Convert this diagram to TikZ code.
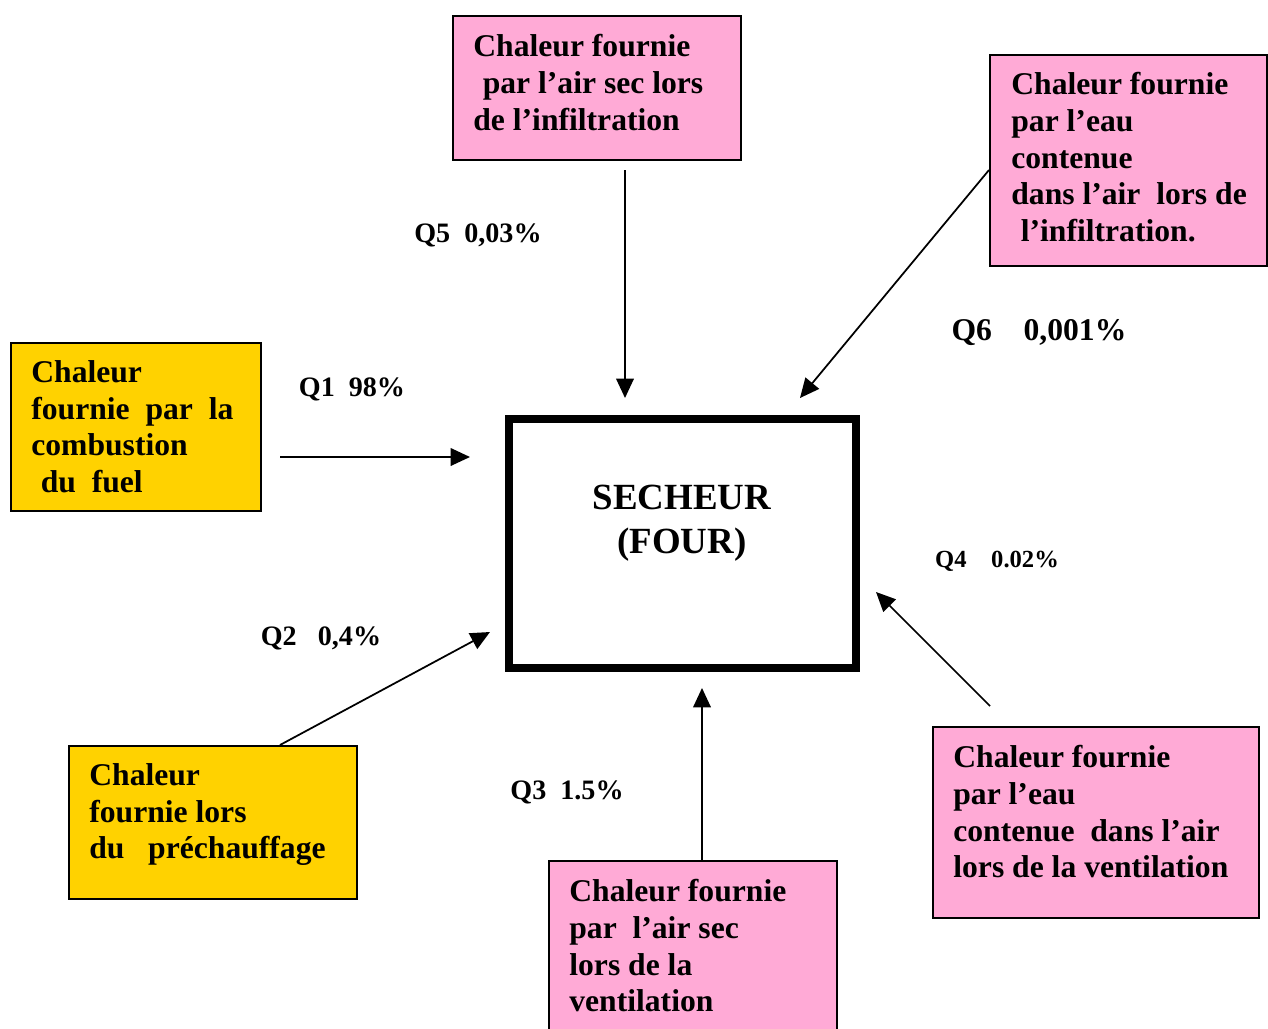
\documentclass[tikz,border=0pt]{standalone}
\usepackage{fontspec}
\setmainfont{Liberation Serif}
\usetikzlibrary{arrows.meta}
\definecolor{boxyellow}{RGB}{255,210,0}
\definecolor{boxpink}{RGB}{255,170,214}
\tikzset{
  heatbox/.style = {draw, line width = 1.2pt, anchor = north west, inner sep = 0pt},
  heattext/.style = {anchor = north west, align = left, inner sep = 0pt,
    font = \bfseries\fontsize{18}{20.9}\selectfont},
  flow/.style = {line width = 1pt, -{Triangle[length = 11pt, width = 10pt]}},
  qlabel/.style = {font = \bfseries\fontsize{16}{18}\selectfont}
}

\begin{document}
\begin{tikzpicture}[x = 0.02cm, y = -0.02cm]
\useasboundingbox (0,0) rectangle (1268,1028);

% dryer
\node[draw, line width = 4.5pt, anchor = north west, minimum width = 6.94cm, minimum height = 4.98cm] (secheur) at (505,415) {};
\node[font = \bfseries\fontsize{21}{25}\selectfont, align = center] (secheurtxt) at (682,523) {SECHEUR\\(FOUR)};

% heat sources
\node[heatbox, fill = boxpink, minimum width = 5.76cm, minimum height = 2.88cm] (infair) at (452,15) {};
\node[heatbox, fill = boxpink, minimum width = 5.54cm, minimum height = 4.22cm] (infeau) at (989,54) {};
\node[heatbox, fill = boxyellow, minimum width = 5.0cm, minimum height = 3.36cm] (fuel) at (10,342) {};
\node[heatbox, fill = boxyellow, minimum width = 5.76cm, minimum height = 3.06cm] (prechauf) at (68,745) {};
\node[heatbox, fill = boxpink, minimum width = 5.76cm, minimum height = 4.0cm] (ventair) at (548,860) {};
\node[heatbox, fill = boxpink, minimum width = 6.52cm, minimum height = 3.82cm] (venteau) at (932,726) {};

\node[heattext] (infairtxt) at ([shift = {(21,19)}]infair.north west)
  {Chaleur fournie\\\hspace*{0.3em}par l’air sec lors\\de l’infiltration};
\node[heattext] (infeautxt) at ([shift = {(22,18)}]infeau.north west)
  {Chaleur fournie\\par l’eau\\contenue\\dans l’air\ \ lors de\\\hspace*{0.3em}l’infiltration.};
\node[heattext] (fueltxt) at ([shift = {(21,18)}]fuel.north west)
  {Chaleur\\fournie\ \ par\ \ la\\combustion\\\hspace*{0.3em}du\ \ fuel};
\node[heattext] (prechauftxt) at ([shift = {(21,18)}]prechauf.north west)
  {Chaleur\\fournie lors\\du\ \ \ préchauffage};
\node[heattext] (ventairtxt) at ([shift = {(21,19)}]ventair.north west)
  {Chaleur fournie\\par\ \ l’air sec\\lors de la\\ventilation};
\node[heattext] (venteautxt) at ([shift = {(21,19)}]venteau.north west)
  {Chaleur fournie\\par l’eau\\contenue\ \ dans l’air\\lors de la ventilation};

% arrow ends
\coordinate (q1a) at (280,457); \coordinate (q1b) at (470,457);
\coordinate (q2a) at (280,745); \coordinate (q2b) at (490,632);
\coordinate (q3a) at (702,860); \coordinate (q3b) at (702,688);
\coordinate (q4a) at (990,706); \coordinate (q4b) at (876,592);
\coordinate (q5a) at (625,170); \coordinate (q5b) at (625,398);
\coordinate (q6a) at (989,170); \coordinate (q6b) at (800,398);

\draw[flow] (q1a) -- (q1b);
\draw[flow] (q2a) -- (q2b);
\draw[flow] (q3a) -- (q3b);
\draw[flow] (q4a) -- (q4b);
\draw[flow] (q5a) -- (q5b);
\draw[flow] (q6a) -- (q6b);

\node[qlabel] (q1) at (352,389) {Q1\ \ 98\%};
\node[qlabel] (q2) at (321,638) {Q2\ \ \ 0,4\%};
\node[qlabel] (q3) at (567,792) {Q3\ \ 1.5\%};
\node[qlabel, font = \bfseries\fontsize{14}{16}\selectfont] (q4) at (997,561) {Q4\ \ \ \ 0.02\%};
\node[qlabel] (q5) at (478,235) {Q5\ \ 0,03\%};
\node[qlabel, font = \bfseries\fontsize{18}{20}\selectfont] (q6) at (1039,333) {Q6\ \ \ \ 0,001\%};
\end{tikzpicture}
\end{document}
